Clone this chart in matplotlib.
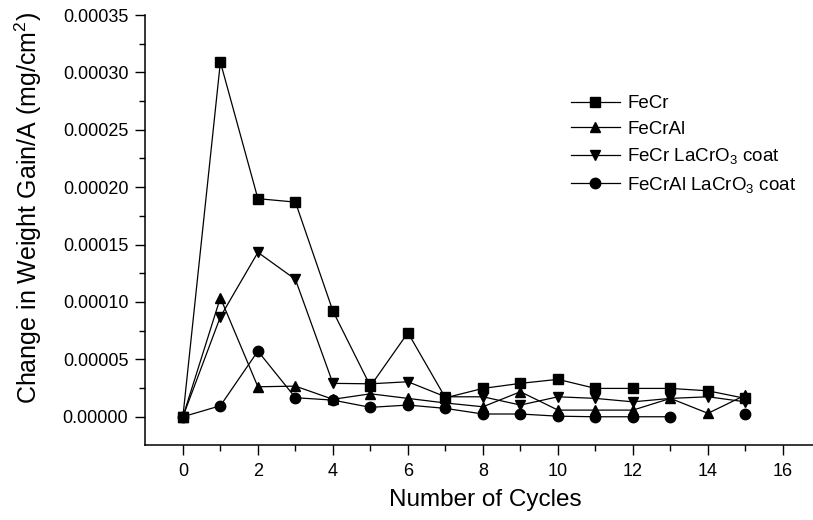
import matplotlib
matplotlib.use("Agg")
import matplotlib.pyplot as plt
import numpy as np

plt.rcParams.update(
    {
        "font.family": ["Liberation Sans", "DejaVu Sans"],
        "mathtext.default": "regular",
        "axes.spines.right": False,
        "axes.spines.top": False,
        "xtick.direction": "out",
        "ytick.direction": "out",
    }
)

# %% Data
cycles = np.arange(16)
fecr = [0.0, 0.000309, 0.000190, 0.000187, 0.0000921, 0.0000267, 0.0000732, 0.0000165,
        0.0000247, 0.0000291, 0.0000326, 0.0000247, 0.0000247, 0.0000247, 0.0000226, 0.000016]
fecral = [0.0, 0.0001037, 0.0000261, 0.0000267, 0.0000152, 0.000020, 0.000016, 0.000012,
          0.0000087, 0.0000218, 0.0000058, 0.0000058, 0.0000058, 0.000016, 0.000003, 0.0000189]
fecr_coat = [0.0, 0.0000871, 0.0001432, 0.0001197, 0.0000291, 0.0000287, 0.0000305, 0.0000174,
             0.0000174, 0.0000102, 0.0000174, 0.000016, 0.000013, 0.000016, 0.0000174, 0.000013]
fecral_coat = [0.0, 0.0000096, 0.0000572, 0.0000166, 0.0000145, 0.0000082, 0.0000102, 0.0000073,
               0.0000024, 0.0000024, 0.0000005, 0.0, 0.0, 0.0, np.nan, 0.000002]

series = [
    (fecr, "s", "FeCr"),
    (fecral, "^", "FeCrAl"),
    (fecr_coat, "v", "FeCr LaCrO$_3$ coat"),
    (fecral_coat, "o", "FeCrAl LaCrO$_3$ coat"),
]

# %% Plot
fig = plt.figure(figsize=(8.13, 5.2), dpi=100)
ax = fig.add_axes([145 / 813, 75 / 520, 668 / 813, 430 / 520])

for values, marker, label in series:
    ax.plot(cycles, values, color="black", linewidth=0.9, marker=marker,
            markersize=7.5, label=label)

ax.set_xlim(-1.01, 16.8)
ax.set_ylim(-0.0000246, 0.00035)
ax.set_xticks(np.arange(0, 17, 2))
ax.set_xticks(np.arange(1, 17, 2), minor=True)
ax.set_yticks(np.arange(0, 0.000351, 0.00005))
ax.set_yticks(np.arange(0.000025, 0.00035, 0.00005), minor=True)
ax.yaxis.set_major_formatter(matplotlib.ticker.FormatStrFormatter("%.5f"))
ax.tick_params(which="major", length=7, width=1, labelsize=13, pad=5)
ax.tick_params(which="minor", length=4, width=1)
ax.tick_params(axis="x", which="major", pad=6)
for side in ["left", "bottom"]:
    ax.spines[side].set_linewidth(1.1)

ax.set_xlabel("Number of Cycles", fontsize=17.5)
ax.set_ylabel("Change in Weight Gain/A (mg/cm$^2$)", fontsize=18)
ax.xaxis.set_label_coords((485 - 145) / 668, -(489 - 445) / 430)
ax.yaxis.set_label_coords(-(145 - 44) / 668, (445 - 208) / 430)

ax.legend(frameon=False, fontsize=13.5, handlelength=2.6, labelspacing=0.45,
          handletextpad=0.4, borderpad=0, borderaxespad=0,
          loc="upper left", bbox_to_anchor=(571 / 813, 1 - 95 / 520),
          bbox_transform=fig.transFigure)

plt.savefig("out.png", dpi=100)
